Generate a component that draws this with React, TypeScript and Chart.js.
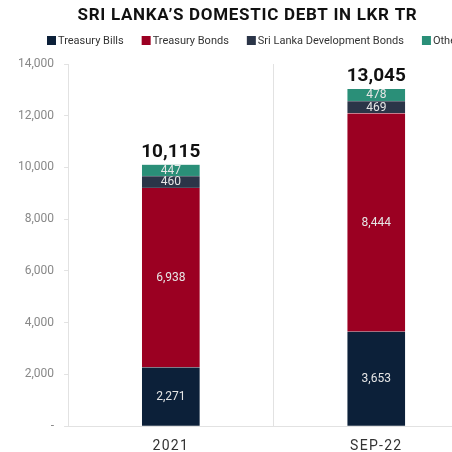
import React, { useEffect, useRef } from "react";
import { Chart, registerables } from "chart.js";

Chart.register(...registerables);

const categories = ["2021", "SEP-22"];
const treasuryBills = [2271, 3653];
const treasuryBonds = [6938, 8444];
const slDevBonds = [460, 469];
const others = [447, 478];
const totals = [10115, 13045];
const yTicks = [0, 2000, 4000, 6000, 8000, 10000, 12000, 14000];
const titleText = "SRI LANKA\u2019S DOMESTIC DEBT IN LKR TR";

const FONT = "Roboto, 'DejaVu Sans', sans-serif";

const headerPlugin = {
  id: "header",
  afterDraw(chart: any) {
    const ctx = chart.ctx;
    ctx.save();
    ctx.font = `700 17px ${FONT}`;
    (ctx as any).letterSpacing = "0.7px";
    ctx.fillStyle = "#111";
    ctx.textAlign = "center";
    ctx.textBaseline = "middle";
    ctx.fillText(titleText, chart.width / 2, 16);
    (ctx as any).letterSpacing = "0px";
    ctx.font = `400 11px ${FONT}`;
    ctx.textAlign = "left";
    let x = 47;
    const y = 41;
    chart.data.datasets.forEach((ds: any) => {
      ctx.fillStyle = ds.backgroundColor;
      ctx.fillRect(x, y - 5, 9, 9);
      ctx.fillStyle = "#333";
      ctx.fillText(ds.label, x + 11, y);
      x += 11 + ctx.measureText(ds.label).width + 18;
    });
    ctx.restore();
  },
  afterLayout(chart: any) {
    const xs = chart.scales.x;
    if (xs && !xs._spaced) {
      const orig = xs.drawLabels;
      xs.drawLabels = function (area: any) {
        const c = this.ctx;
        c.save();
        (c as any).letterSpacing = "1.3px";
        orig.call(this, area);
        c.restore();
      };
      xs._spaced = true;
    }
  },
};

const labelPlugin = {
  id: "stackLabels",
  afterDatasetsDraw(chart: any) {
    const ctx = chart.ctx;
    ctx.save();
    ctx.textAlign = "center";
    ctx.textBaseline = "middle";
    chart.data.datasets.forEach((ds: any, di: number) => {
      const meta = chart.getDatasetMeta(di);
      meta.data.forEach((el: any, i: number) => {
        const v = ds.data[i];
        const y = (el.y + el.base) / 2;
        ctx.fillStyle = "#e6e6e6";
        ctx.font = `400 12px ${FONT}`;
        ctx.fillText(v.toLocaleString("en-US"), el.x, y + 0.5);
      });
    });
    const last = chart.getDatasetMeta(chart.data.datasets.length - 1);
    last.data.forEach((el: any, i: number) => {
      ctx.fillStyle = "#111";
      ctx.font = `700 19px ${FONT}`;
      ctx.textBaseline = "bottom";
      ctx.fillText(totals[i].toLocaleString("en-US"), el.x, el.y - 3);
    });
    ctx.restore();
  },
};

export default function App() {
  const ref = useRef<HTMLCanvasElement | null>(null);
  useEffect(() => {
    if (!ref.current) return;
    const mk = (label: string, data: number[], color: string) => ({
      label,
      data,
      backgroundColor: color,
      borderColor: "rgba(255,255,255,0.6)",
      borderWidth: 0.5,
      barThickness: 58,
    });
    const chart = new Chart(ref.current, {
      type: "bar",
      data: {
        labels: categories,
        datasets: [
          mk("Treasury Bills", treasuryBills, "#0c2039"),
          mk("Treasury Bonds", treasuryBonds, "#9b0022"),
          mk("Sri Lanka Development Bonds", slDevBonds, "#2b3548"),
          mk("Other", others, "#2a8f78"),
        ],
      },
      options: {
        animation: false,
        responsive: true,
        maintainAspectRatio: false,
        layout: { padding: { left: 8, right: 16, top: 64, bottom: 0 } },
        plugins: {
          title: { display: false },
          legend: { display: false },
          tooltip: { enabled: false },
        },
        scales: {
          x: {
            stacked: true,
            grid: {
              display: true,
              offset: true,
              color: "#e2e2e2",
              drawTicks: false,
            },
            border: { display: true, color: "#e2e2e2" },
            ticks: {
              color: "#333",
              font: { family: FONT, size: 14 },
              padding: 12,
            },
          },
          y: {
            stacked: true,
            min: 0,
            max: 14000,
            afterBuildTicks(axis: any) {
              axis.ticks = yTicks.map((v) => ({ value: v }));
            },
            grid: {
              display: true,
              drawOnChartArea: false,
              drawTicks: true,
              tickLength: 4,
              color: "#e2e2e2",
            },
            border: { display: true, color: "#e2e2e2" },
            ticks: {
              color: "#888",
              font: { family: FONT, size: 12 },
              padding: 10,
              callback: (v: any) => (v === 0 ? "-" : Number(v).toLocaleString("en-US")),
            },
          },
        },
      },
      plugins: [headerPlugin, labelPlugin],
    });
    return () => chart.destroy();
  }, []);
  return (
    <div style={{ position: "fixed", left: 0, top: 0, width: 452, height: 452, overflow: "hidden", background: "#fff" }}>
      <div style={{ position: "relative", width: 495, height: 467 }}>
        <canvas ref={ref} />
      </div>
    </div>
  );
}
